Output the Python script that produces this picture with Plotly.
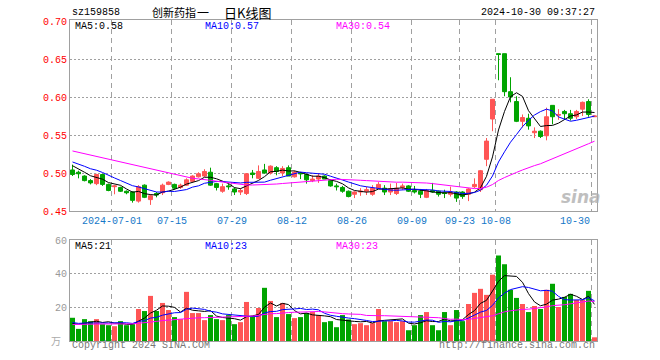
import pandas as pd
import plotly.graph_objects as go

# ---------------- data ----------------
holidays = ["2024-09-16", "2024-09-17", "2024-10-01", "2024-10-02", "2024-10-03", "2024-10-04", "2024-10-07"]
dates = [d.strftime("%Y-%m-%d") for d in pd.bdate_range("2024-06-20", "2024-10-30") if d.strftime("%Y-%m-%d") not in holidays]

label_dates = ["2024-07-01", "2024-07-15", "2024-07-29", "2024-08-12", "2024-08-26",
               "2024-09-09", "2024-09-23", "2024-10-08", "2024-10-30"]
label_texts = ["2024-07-01", "07-15", "07-29", "08-12", "08-26", "09-09", "09-23", "10-08", "10-30"]

opens = [.504, .501, .496, .490, .486, .498, .485, .482, .481, .476,
         .475, .463, .484, .465, .473, .474, .485, .485, .481, .484,
         .489, .495, .496, .501, .486, .476, .483, .479, .475, .473,
         .500, .493, .504, .500, .507, .500, .507, .495, .500, .498,
         .490, .492, .496, .490, .483, .481, .476, .472, .475, .476,
         .472, .480, .480, .475, .473, .481, .483, .477, .476, .468,
         .477, .476, .474, .472, .475, .475, .472, .482, .478, .518,
         .571, .657, .657, .607, .594, .568, .572, .553, .555, .549,
         .589, .576, .581, .578, .574, .584, .594, .574]
highs = [.511, .503, .497, .492, .499, .499, .486, .484, .482, .477,
         .476, .484, .485, .472, .475, .486, .489, .486, .486, .493,
         .497, .501, .505, .507, .487, .486, .486, .481, .480, .500,
         .504, .510, .512, .510, .509, .509, .510, .503, .501, .499,
         .497, .499, .497, .492, .486, .483, .477, .476, .480, .482,
         .484, .488, .484, .486, .487, .486, .484, .483, .479, .479,
         .487, .477, .478, .482, .476, .476, .480, .493, .504, .546,
         .597, .657, .657, .626, .601, .577, .578, .560, .556, .586,
         .589, .584, .583, .583, .583, .594, .597, .575]
lows = [.496, .493, .489, .485, .484, .483, .476, .472, .475, .472,
        .461, .461, .467, .458, .468, .471, .484, .478, .479, .483,
        .488, .494, .495, .483, .477, .474, .478, .471, .471, .471,
        .493, .492, .499, .498, .497, .496, .496, .494, .492, .486,
        .488, .487, .492, .482, .477, .474, .468, .467, .470, .471,
        .470, .479, .471, .471, .471, .478, .475, .473, .467, .467,
        .474, .469, .467, .469, .462, .466, .463, .480, .475, .509,
        .555, .622, .601, .593, .567, .560, .557, .546, .546, .543,
        .564, .570, .570, .569, .571, .575, .574, .574]
closes = [.498, .499, .490, .487, .498, .485, .477, .483, .476, .474,
          .464, .482, .468, .470, .471, .484, .488, .480, .484, .491,
          .496, .499, .502, .484, .481, .482, .482, .475, .477, .499,
          .498, .502, .500, .509, .502, .506, .496, .501, .499, .491,
          .492, .496, .492, .483, .482, .476, .469, .475, .476, .478,
          .480, .485, .475, .479, .480, .483, .476, .475, .472, .477,
          .475, .472, .473, .474, .467, .469, .479, .485, .503, .542,
          .597, .656, .607, .600, .568, .573, .562, .555, .548, .574,
          .574, .577, .578, .572, .581, .593, .577, .575]
# volume (万)
volumes = [13.8, 7.2, 13, 11.8, 13, 10, 9.4, 8.8, 11.8, 9.4,
           10, 19, 17.8, 26.8, 17.8, 22.6, 18.4, 14.2, 13, 29.2,
           16.6, 16.6, 12.4, 15.4, 13, 12.4, 15.4, 10, 11.2, 23.2,
           14.8, 19.6, 31.6, 23.8, 14.2, 22.6, 16, 13.6, 14.2, 16.6,
           17.2, 15.4, 11.2, 11.8, 8.2, 15.4, 12.8, 10, 10.6, 9.4,
           10.6, 19, 11.8, 11.8, 11.2, 11.8, 6.4, 9.4, 15.4, 17.2,
           9.4, 6.4, 17.2, 9.4, 18.4, 11.8, 22, 28.6, 31, 27.4,
           39.4, 50.8, 45.6, 30.4, 25.6, 22, 17.2, 20.8, 19, 30.4,
           34, 20.2, 26.2, 28, 24.4, 24.4, 29.8, 2.2]
# estimated earlier closes / volumes (before the window) that seed the moving averages
hist_closes = [.554, .545, .542, .553, .540, .532, .538, .531, .529, .519,
               .537, .523, .525, .526, .539, .543, .535, .539, .540, .535,
               .524, .522, .519, .517, .515, .518, .514, .510, .508]
hist_volumes = [8.5, 10.2, 7.9, 9.6, 11.3, 8.4, 9.0, 7.6, 10.8, 9.9,
                8.2, 9.5, 10.6, 8.8, 7.7, 9.3, 10.1, 8.6, 9.4, 8.4,
                12.5, 11.0, 13.2, 10.8, 10.5, 9.5, 10.2, 8.8, 9.7]

# ---------------- helpers ----------------
N = len(closes)
xs = list(range(N))


def moving_avg(hist, vals, n):
    full = hist + vals
    off = len(hist)
    return [sum(full[off + i - n + 1: off + i + 1]) / n for i in range(len(vals))]


ma5, ma10, ma30 = (moving_avg(hist_closes, closes, n) for n in (5, 10, 30))
vma5, vma10, vma30 = (moving_avg(hist_volumes, volumes, n) for n in (5, 10, 30))

RED = "#FF5555"
GREEN = "#00A400"
BLUE_T = "#1478C8"
GRAY = "#A0A0A0"
MONO = "Liberation Mono, DejaVu Sans Mono, monospace"

L, R, T, B = 70, 63, 20, 19
W, H = 660, 360
PW, PH = W - L - R, H - T - B


def pp(xp, yp):
    return (xp - L) / PW, (H - B - yp) / PH


fig = go.Figure()

fig.add_trace(go.Candlestick(
    x=xs, open=opens, high=highs, low=lows, close=closes,
    increasing=dict(line=dict(color=RED, width=1), fillcolor=RED),
    decreasing=dict(line=dict(color=GREEN, width=1), fillcolor=GREEN),
    whiskerwidth=0, xaxis="x", yaxis="y", hoverinfo="skip"))
for ma, col in ((ma5, "black"), (ma10, "#0000FF"), (ma30, "#FF00FF")):
    fig.add_trace(go.Scatter(x=xs, y=ma, mode="lines", line=dict(color=col, width=1),
                             xaxis="x", yaxis="y", hoverinfo="skip"))

vcolors = [RED if c > o else GREEN for o, c in zip(opens, closes)]
fig.add_trace(go.Bar(x=xs, y=volumes, marker=dict(color=vcolors, line=dict(width=0)),
                     xaxis="x2", yaxis="y2", hoverinfo="skip"))
for ma, col in ((vma5, "black"), (vma10, "#0000FF"), (vma30, "#FF00FF")):
    fig.add_trace(go.Scatter(x=xs, y=ma, mode="lines", line=dict(color=col, width=1),
                             xaxis="x2", yaxis="y2", hoverinfo="skip"))

label_idx = [dates.index(d) for d in label_dates]
grid_x = [i - 0.42 for i in label_idx]
xr = [-2.5 / 6, -2.5 / 6 + PW / 6]

axis_common = dict(showline=True, mirror=True, linecolor=GRAY, linewidth=1, zeroline=False, ticks="")
fig.update_layout(
    width=W, height=H, margin=dict(l=L, r=R, t=T, b=B),
    paper_bgcolor="white", plot_bgcolor="white", showlegend=False, hovermode=False,
    boxgap=0.33, boxgroupgap=0, bargap=0.17,
    xaxis=dict(domain=[0, 1], range=xr, anchor="y", tickvals=grid_x, showticklabels=False,
               showgrid=True, gridcolor=GRAY, griddash="5px,4px", gridwidth=1,
               rangeslider=dict(visible=False), **axis_common),
    yaxis=dict(domain=[(H - B - 211) / PH, 1], range=[0.45, 0.45 + 191 / 760], anchor="x",
               tickvals=[0.45, 0.50, 0.55, 0.60, 0.65, 0.70],
               ticktext=["0.45", "0.50", "0.55", "0.60", "0.65", "0.70"],
               tickfont=dict(family=MONO, size=10, color="#FF0000"),
               showgrid=True, gridcolor=GRAY, griddash="2px,2px", gridwidth=1, **axis_common),
    xaxis2=dict(domain=[0, 1], range=xr, anchor="y2", tickvals=grid_x, showticklabels=False,
                showgrid=True, gridcolor=GRAY, griddash="5px,4px", gridwidth=1, **axis_common),
    yaxis2=dict(domain=[0, (H - B - 240) / PH], range=[0, 60], anchor="x2",
                tickvals=[20, 40, 60], ticktext=["20", "40", "60"],
                tickfont=dict(family=MONO, size=10, color="#999999"),
                showgrid=True, gridcolor=GRAY, griddash="2px,2px", gridwidth=1, **axis_common),
)

ann = []


def text(xp, yp, s, color="black", size=10, anchor="left", family=MONO, **kw):
    x, y = pp(xp, yp)
    ann.append(dict(x=x, y=y, xref="paper", yref="paper", text=s, showarrow=False,
                    xanchor=anchor, yanchor="middle", font=dict(family=family, size=size, color=color), **kw))


CJK = "Noto Sans CJK SC"
# header
text(70, 12, "sz159858")
text(150, 12, "创新药指", size=11, family=CJK)
text(202.5, 12, "一", size=12, family=CJK, anchor="center")
text(222, 12, "日K线图", size=13, family=CJK)
text(597, 12, "2024-10-30 09:37:27", anchor="right")
# price MA labels
text(73, 26, f"MA5:{ma5[-1]:.2f}")
text(203, 26, f"MA10:{ma10[-1]:.2f}", color="#0000FF")
text(334, 26, f"MA30:{ma30[-1]:.2f}", color="#FF00FF")
# volume MA labels
text(73, 246.5, f"MA5:{int(vma5[-1])}")
text(203, 246.5, f"MA10:{int(vma10[-1])}", color="#0000FF")
text(334, 246.5, f"MA30:{int(vma30[-1])}", color="#FF00FF")
# footer
text(70, 346, "Copyright 2024 SINA.COM", color="#777777")
text(597, 346, "http://finance.sina.com.cn", color="#777777", anchor="right")
text(63, 340, "万", color="#AAAAAA", size=10, family=CJK, anchor="right")
# watermark
text(581, 197, "sina", color="#B0B0B0", size=17, anchor="center", family="DejaVu Sans")
ann[-1]["font"].update(style="italic", weight="bold")
ann[-1]["opacity"] = 0.8

# date labels through the x scale
for k, (gx, lab) in enumerate(zip(grid_x, label_texts)):
    last = k == len(label_texts) - 1
    ann.append(dict(x=gx, y=(H - B - 221) / PH, xref="x", yref="paper", text=lab, showarrow=False,
                    xanchor="right" if last else "center", yanchor="middle",
                    font=dict(family=MONO, size=10, color=BLUE_T)))

fig.update_layout(annotations=ann)
fig.write_html("out.html", config={"displayModeBar": False, "staticPlot": True},
               post_script="document.body.style.margin='0px';")
